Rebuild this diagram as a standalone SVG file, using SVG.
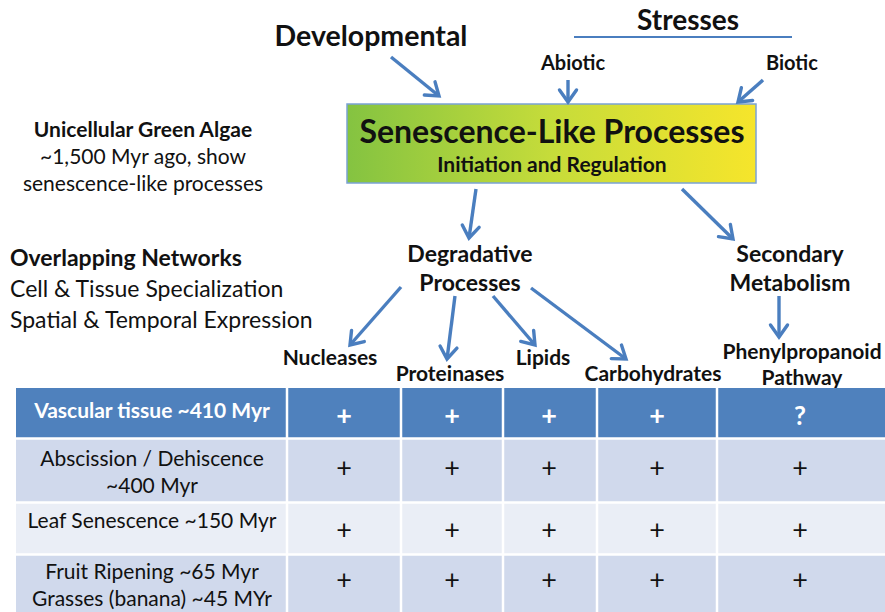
<svg xmlns="http://www.w3.org/2000/svg" width="885" height="612" viewBox="0 0 885 612">
  <defs>
    <linearGradient id="boxFill" x1="0" y1="0" x2="1" y2="0">
      <stop offset="0" stop-color="#84C341"/>
      <stop offset="0.5" stop-color="#C6DC3A"/>
      <stop offset="1" stop-color="#F6E52B"/>
    </linearGradient>
    <marker id="vhead" markerUnits="userSpaceOnUse" markerWidth="30" markerHeight="30" viewBox="-15 -15 30 30" refX="0" refY="0" orient="auto">
      <path d="M-12,-8.5 L0,0 L-12,8.5" fill="none" stroke="#4A7EBF" stroke-width="3.4" stroke-linecap="round" stroke-linejoin="miter"/>
    </marker>
    <style>
      text { font-family: Lato, "Open Sans", "Liberation Sans", sans-serif; fill: #111; }
      .b { font-weight: bold; }
      .c { text-anchor: middle; }
      .edge { stroke: #4A7EBF; stroke-width: 3.4; fill: none; marker-end: url(#vhead); }
      .hdr { fill: #4F81BD; }
      .rowA { fill: #D0D9EC; }
      .rowB { fill: #EAEEF6; }
      .grid { stroke: #FFFFFF; stroke-width: 2.5; }
      .wt { fill: #FFFFFF; font-weight: bold; }
    </style>
  </defs>

  <rect width="885" height="612" fill="#FFFFFF"/>

  <!-- labels above the table -->
  <g id="developmental"><text class="b c" x="371" y="46" font-size="28.5">Developmental</text></g>
  <g id="stresses">
    <text class="b c" x="688" y="30" font-size="28">Stresses</text>
    <line x1="574" y1="37" x2="792" y2="37" stroke="#4A7EBF" stroke-width="2"/>
  </g>
  <g id="abiotic"><text class="b c" x="573" y="70" font-size="20">Abiotic</text></g>
  <g id="biotic"><text class="b" x="766" y="70" font-size="20">Biotic</text></g>

  <g id="senescence">
    <rect x="347" y="104" width="409" height="79" fill="url(#boxFill)" stroke="#7BA3D4" stroke-width="1.5"/>
    <text class="b c" x="552" y="143" font-size="32">Senescence-Like Processes</text>
    <text class="b c" x="552" y="172" font-size="21">Initiation and Regulation</text>
  </g>

  <g id="algae">
    <text class="b c" x="143" y="137" font-size="21">Unicellular Green Algae</text>
    <text class="c" x="143" y="164" font-size="21">~1,500 Myr ago, show</text>
    <text class="c" x="143" y="191" font-size="21">senescence-like processes</text>
  </g>

  <g id="networks">
    <text class="b" x="10" y="266" font-size="23">Overlapping Networks</text>
    <text x="10" y="297" font-size="23">Cell &amp; Tissue Specialization</text>
    <text x="10" y="328" font-size="23">Spatial &amp; Temporal Expression</text>
  </g>

  <g id="degradative">
    <text class="b c" x="470" y="262" font-size="23">Degradative</text>
    <text class="b c" x="470" y="291" font-size="23">Processes</text>
  </g>
  <g id="secondary">
    <text class="b c" x="790" y="262" font-size="23">Secondary</text>
    <text class="b c" x="790" y="291" font-size="23">Metabolism</text>
  </g>

  <g id="nucleases"><text class="b c" x="330" y="365" font-size="21">Nucleases</text></g>
  <g id="proteinases"><text class="b c" x="450" y="381" font-size="21">Proteinases</text></g>
  <g id="lipids"><text class="b c" x="543" y="365" font-size="21">Lipids</text></g>
  <g id="carbohydrates"><text class="b c" x="653" y="381" font-size="21">Carbohydrates</text></g>
  <g id="phenylpropanoid">
    <text class="b c" x="802" y="359" font-size="21">Phenylpropanoid</text>
    <text class="b c" x="802" y="385" font-size="21">Pathway</text>
  </g>

  <!-- connectors -->
  <g id="connectors">
    <line class="edge" x1="391" y1="57" x2="439" y2="96"/>
    <line class="edge" x1="568" y1="80" x2="568" y2="102"/>
    <line class="edge" x1="763" y1="80" x2="738" y2="102"/>
    <line class="edge" x1="476" y1="189" x2="469" y2="238"/>
    <line class="edge" x1="682" y1="189" x2="733" y2="239"/>
    <line class="edge" x1="401" y1="287" x2="350" y2="345"/>
    <line class="edge" x1="455" y1="296" x2="447" y2="359"/>
    <line class="edge" x1="493" y1="296" x2="535" y2="345"/>
    <line class="edge" x1="531" y1="288" x2="626" y2="359"/>
    <line class="edge" x1="779" y1="296" x2="779" y2="337"/>
  </g>

  <!-- table of processes by lineage -->
  <g id="table">
    <rect class="hdr" x="16" y="388" width="869" height="50"/>
    <rect class="rowA" x="16" y="439" width="869" height="63"/>
    <rect class="rowB" x="16" y="503" width="869" height="51"/>
    <rect class="rowA" x="16" y="555" width="869" height="57"/>
    <g class="grid">
      <line x1="16" y1="438.5" x2="885" y2="438.5"/>
      <line x1="16" y1="502.5" x2="885" y2="502.5"/>
      <line x1="16" y1="554.5" x2="885" y2="554.5"/>
      <line x1="287" y1="388" x2="287" y2="612"/>
      <line x1="401" y1="388" x2="401" y2="612"/>
      <line x1="503" y1="388" x2="503" y2="612"/>
      <line x1="597" y1="388" x2="597" y2="612"/>
      <line x1="717" y1="388" x2="717" y2="612"/>
    </g>

    <text class="wt c" x="152" y="418" font-size="21">Vascular tissue ~410 Myr</text>
    <g font-size="27" class="wt">
      <text class="wt c" x="344" y="425">+</text>
      <text class="wt c" x="452" y="425">+</text>
      <text class="wt c" x="549" y="425">+</text>
      <text class="wt c" x="657" y="425">+</text>
      <text class="wt c" x="800" y="425" font-size="26">?</text>
    </g>

    <text class="c" x="152" y="466" font-size="21">Abscission / Dehiscence</text>
    <text class="c" x="152" y="493" font-size="21">~400 Myr</text>
    <text class="c" x="152" y="528" font-size="21">Leaf Senescence ~150 Myr</text>
    <text class="c" x="152" y="579" font-size="21">Fruit Ripening ~65 Myr</text>
    <text class="c" x="152" y="606" font-size="21">Grasses (banana) ~45 MYr</text>

    <g font-size="27">
      <text class="c" x="344" y="477">+</text>
      <text class="c" x="452" y="477">+</text>
      <text class="c" x="549" y="477">+</text>
      <text class="c" x="657" y="477">+</text>
      <text class="c" x="800" y="477">+</text>
      <text class="c" x="344" y="539">+</text>
      <text class="c" x="452" y="539">+</text>
      <text class="c" x="549" y="539">+</text>
      <text class="c" x="657" y="539">+</text>
      <text class="c" x="800" y="539">+</text>
      <text class="c" x="344" y="589">+</text>
      <text class="c" x="452" y="589">+</text>
      <text class="c" x="549" y="589">+</text>
      <text class="c" x="657" y="589">+</text>
      <text class="c" x="800" y="589">+</text>
    </g>
  </g>
</svg>
